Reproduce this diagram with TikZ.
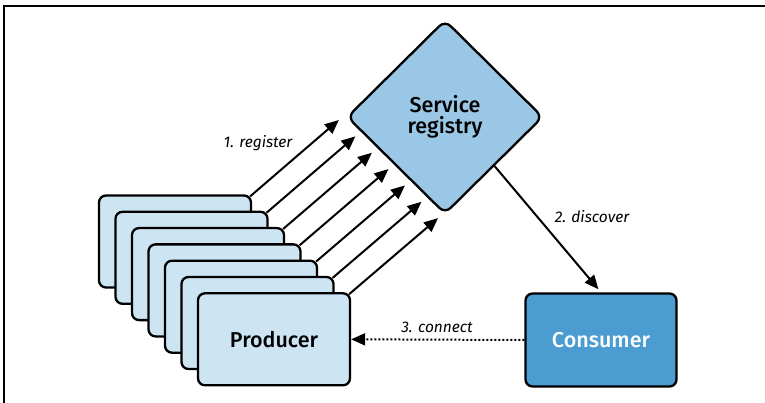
\documentclass[tikz,border=0pt]{standalone}
\usepackage{fontspec}
\setmainfont{Fira Sans}[BoldFont={Fira Sans Medium}]
\usetikzlibrary{arrows.meta,shapes.geometric,calc}
\definecolor{prodfill}{HTML}{CDE4F3}
\definecolor{regfill}{HTML}{9BC7E7}
\definecolor{consfill}{HTML}{4B9CD1}
\begin{document}
\begin{tikzpicture}[x=1pt,y=-1pt,
  boxtext/.style={font=\fontsize{21.5}{21}\selectfont\bfseries},
  prodbox/.style={draw, line width=2.3pt, rounded corners=7pt, fill=prodfill,
    minimum width=152pt, minimum height=92pt, inner sep=0pt, boxtext},
  regbox/.style={diamond, draw, line width=2.3pt, rounded corners=8pt, fill=regfill,
    minimum width=196pt, minimum height=194pt, inner sep=0pt, align=center, boxtext},
  consbox/.style={draw, line width=2.3pt, rounded corners=7pt, fill=consfill,
    minimum width=151pt, minimum height=93pt, inner sep=0pt, text=white, boxtext},
  arr/.style={line width=2pt, -{Triangle[length=14pt,width=12pt]}},
  dotarr/.style={line width=2pt, dash pattern=on 2pt off 2pt, -{Triangle[length=14pt,width=12pt]}},
  lbl/.style={font=\fontsize{15.5}{17}\selectfont\itshape, inner sep=1pt}
]
\useasboundingbox (0,0) rectangle (765,403);
\draw[line width=1.4pt] (4,403) -- (4,6) -- (765,6);

\node[regbox] (reg) at (445,117) {Service\\registry};

\foreach \i in {0,...,5}
  \node[prodbox] (p\i) at ({175+16.5*\i},{241.5+16.3*\i}) {};
\node[prodbox] (p6) at ({175+16.5*6},{241.5+16.3*6}) {Producer};

\node[consbox] (cons) at (601,340) {Consumer};

\foreach \i in {0,...,6}
  \draw[arr] ($(p\i.north east)+(-2,2)$) -- ($(reg.west)!{\i/6}!(reg.south)+(-7,3)$);

\draw[arr, shorten >=4pt] ($(reg.east)!0.5!(reg.south)$) -- (cons.north);
\draw[dotarr] (cons.west) -- (p6.east);

\node[lbl] (l1) at (258,143) {1. register};
\node[lbl] (l2) at (592,217) {2. discover};
\node[lbl] (l3) at (437,327) {3. connect};
\end{tikzpicture}
\end{document}
